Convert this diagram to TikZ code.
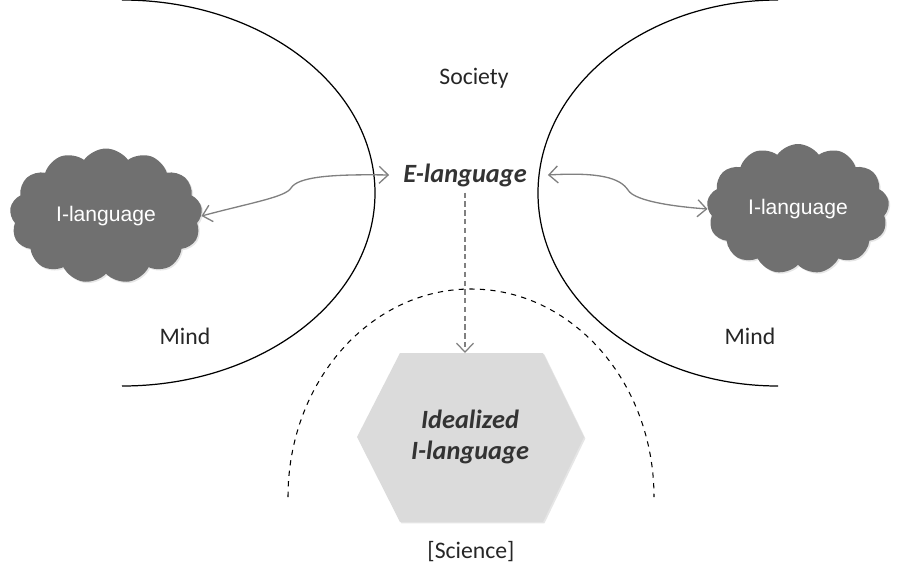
\documentclass[tikz,border=0pt]{standalone}
\usepackage{fontspec}
\setmainfont{Carlito}
\newfontfamily\cloudfont{Liberation Sans}
\usetikzlibrary{shapes.symbols,arrows.meta,shadows}

\begin{document}
\begin{tikzpicture}[
            x=0.02cm, y=-0.02cm,
            txt/.style={font=\fontsize{13.5}{16}\selectfont, text=black!85},
            term/.style={font=\fontsize{15}{18}\selectfont\bfseries\itshape, text=black!80, align=center},
            thought/.style={cloud, cloud puffs=13, cloud puff arc=110, aspect=1.45, fill=black!56, minimum width=3.65cm, minimum height=2.6cm, inner sep=0pt, text=white, font=\cloudfont\fontsize{12}{14}\selectfont, drop shadow={opacity=0.2, shadow xshift=0.8pt, shadow yshift=-0.8pt}},
            boundary/.style={black, line width=0.7pt},
            link/.style={{Straight Barb[length=1.8mm, width=3.4mm]}-{Straight Barb[length=1.8mm, width=3.4mm]}, black!50, line width=0.75pt},
            down/.style={-{Straight Barb[length=1.8mm, width=3.4mm]}, black!50, line width=0.7pt, densely dashed}
        ]
        \useasboundingbox (0,0) rectangle (897,572);

        % Boundaries
        \draw[boundary] (122,0) arc[start angle=-90, end angle=90, x radius=253, y radius=193];
        \draw[boundary] (778,0) arc[start angle=270, end angle=90, x radius=240, y radius=193];
        \draw[boundary, dashed, line width=0.6pt] (288,497) arc[start angle=180, end angle=360, x radius=183, y radius=208];

        % Idealized I-language
        \fill[black!14, drop shadow={opacity=0.2, shadow xshift=0.8pt, shadow yshift=-0.8pt}] (400,353) -- (543,353) -- (584,437) -- (543,522) -- (400,522) -- (357,437) -- cycle;
        \node[term] (ideal) at (470,437) {Idealized\\I-language};
        \coordinate (hextop) at (470,353);

        % Labels
        \node[txt] (society) at (474,78) {Society};
        \node[term] (elang) at (465,175) {E-language};
        \node[txt] (mindl) at (185,336) {Mind};
        \node[txt] (mindr) at (750,336) {Mind};
        \node[txt] (science) at (471,552) {[Science]};

        % Clouds
        \node[thought, minimum width=3.85cm, minimum height=2.7cm] (lcloud) at (106,216) {I-language};
        \node[thought] (rcloud) at (798,209) {I-language};

        % Arrows
        \draw[link] (lcloud.east) .. controls (250,203) and (286,197) .. (291,188) .. controls (298,177) and (330,174) .. ([xshift=-1.6mm]elang.west);
        \draw[link] ([xshift=3mm]elang.east) .. controls (600,172) and (620,178) .. (628,190) .. controls (635,202) and (680,207) .. (rcloud.west);
        \draw[down] (elang.south) -- (elang.south |- hextop);

        \end{tikzpicture}
\end{document}
